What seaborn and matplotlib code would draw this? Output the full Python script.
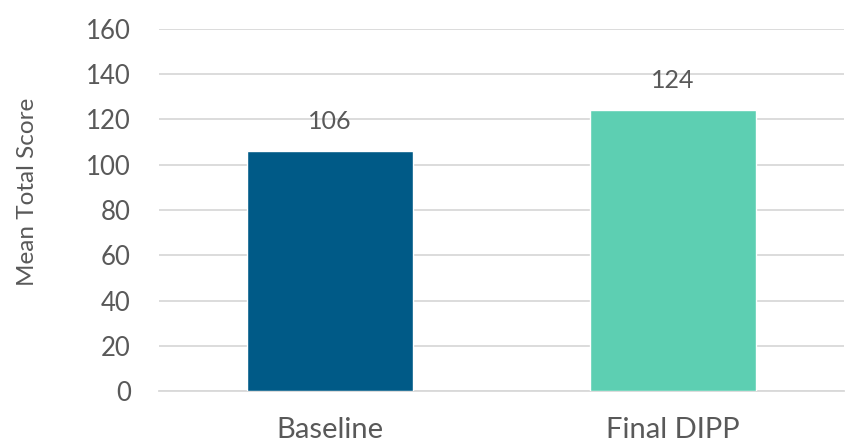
import matplotlib
matplotlib.use("Agg")
import matplotlib.pyplot as plt
import seaborn as sns
import pandas as pd

# Mean total score before and after the programme
categories = ["Baseline", "Final DIPP"]
scores = [106, 124]
bar_colors = ["#005A87", "#5DCFB2"]
y_ticks = [0, 20, 40, 60, 80, 100, 120, 140, 160]

sns.set_theme(style="white")
plt.rcParams["font.family"] = ["Lato", "DejaVu Sans"]

text_color = "#595959"
grid_color = "#D9D9D9"

df = pd.DataFrame({"stage": categories, "score": scores})

fig = plt.figure(figsize=(8.57, 4.46), dpi=100)
ax = fig.add_axes([0.185, 0.1233, 0.8004, 0.8117])

sns.barplot(data=df, x="stage", y="score", hue="stage", palette=bar_colors,
            width=0.485, legend=False, saturation=1, ax=ax, zorder=3)

ax.set_ylim(0, 160)
ax.set_xlim(-0.5, 1.5)
ax.set_yticks(y_ticks)
ax.set_yticklabels([str(t) for t in y_ticks])
ax.yaxis.grid(True, color=grid_color, linewidth=1.3, zorder=0)
ax.xaxis.grid(False)
for side in ["top", "right", "left"]:
    ax.spines[side].set_visible(False)
ax.spines["bottom"].set_color(grid_color)
ax.spines["bottom"].set_linewidth(1.3)

ax.tick_params(axis="y", length=0, pad=20, labelsize=18.5, labelcolor=text_color)
ax.tick_params(axis="x", length=0, pad=19, labelsize=21, labelcolor=text_color)
ax.set_xlabel("")
ax.set_ylabel("Mean Total Score", fontsize=17.5, color=text_color)
ax.yaxis.set_label_coords(-0.176, 0.55)

for container in ax.containers:
    ax.bar_label(container, fmt="%d", padding=13, fontsize=18, color=text_color)

fig.savefig("out.png", dpi=100, facecolor="white")
